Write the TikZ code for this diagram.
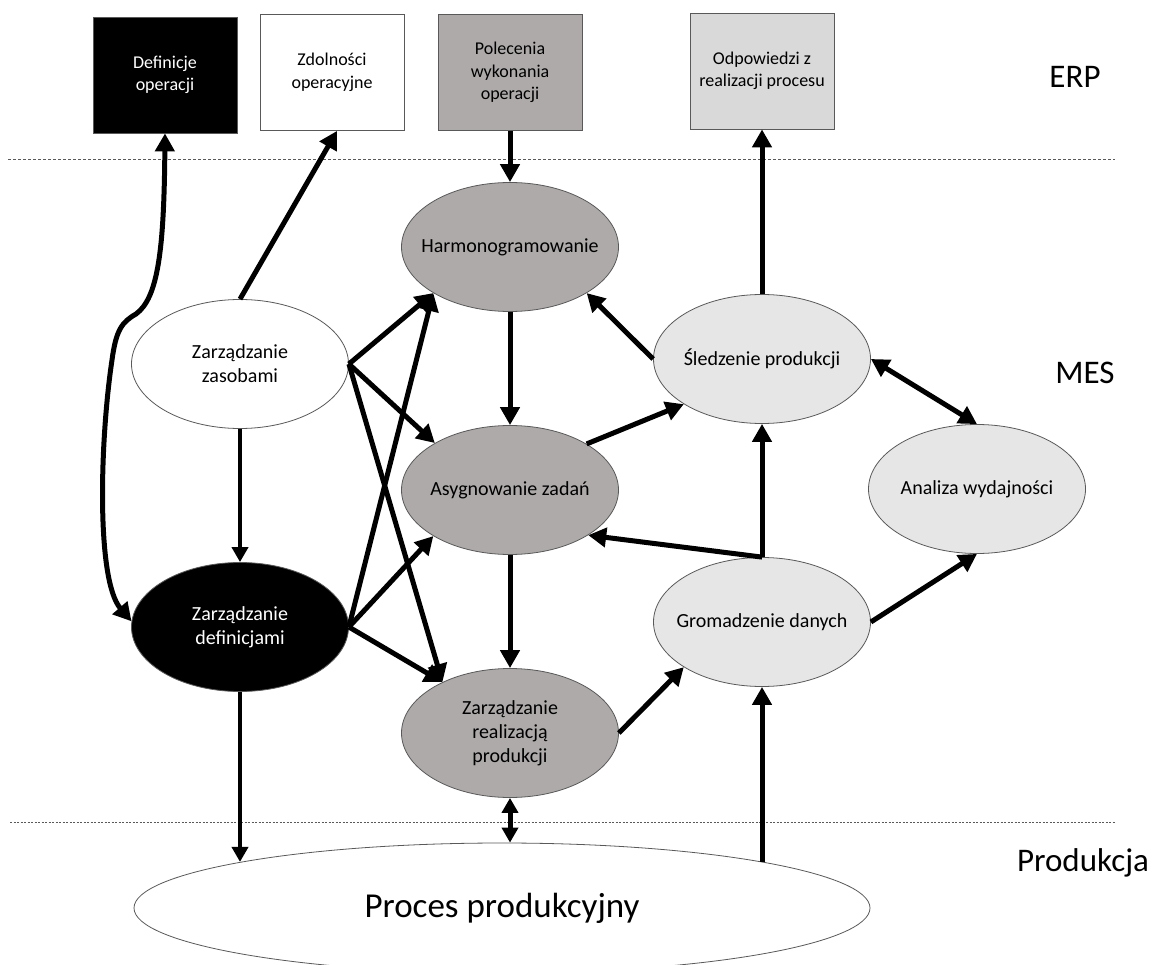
\documentclass[tikz,border=0pt]{standalone}
\usepackage{fontspec}
\setmainfont{Carlito}
\usetikzlibrary{arrows.meta,shapes.geometric,calc}
\definecolor{midgray}{HTML}{AEAAAA}
\definecolor{palegray}{HTML}{E7E6E6}
\definecolor{boxgray}{HTML}{D9D9D9}
\definecolor{rimgray}{HTML}{595959}
\tikzset{
  bigtip/.tip={Triangle[length=18pt,width=19pt]},
  smalltip/.tip={Triangle[length=15pt,width=16pt]},
}
\begin{document}
\begin{tikzpicture}[x=1pt,y=-1pt,
  erpbox/.style={rectangle, draw=rimgray, line width=0.8pt, minimum width=144pt,
    minimum height=116pt, inner sep=0pt, align=center,
    font=\fontsize{18}{22.5}\selectfont},
  fnc/.style={ellipse, draw=rimgray, line width=0.8pt, inner sep=0pt,
    minimum width=217pt, minimum height=129pt},
  every label/.style={inner sep=0pt, align=center, font=\fontsize{20}{24}\selectfont},
  flow/.style={line width=5pt, -bigtip},
  biflow/.style={line width=5pt, bigtip-bigtip},
  layer/.style={font=\fontsize{33}{40}\selectfont, inner sep=0pt},
  sepline/.style={draw=rimgray, line width=0.8pt, dash pattern=on 3pt off 2pt},
]
\useasboundingbox (0,0) rectangle (1158,965);

% layer separators
\draw[sepline] (8,159) -- (1115,159);
\draw[sepline, dash pattern=on 2pt off 1.5pt] (10,822) -- (1115,822);

% layer names
\node[layer] (erp) at (1075,77) {ERP};
\node[layer] (mes) at (1085,373) {MES};
\node[layer] (prod) at (1083,863) {Produkcja};

% ERP level boxes
\node[erpbox, fill=black, text=white] (defop) at (165,75) {Definicje\\operacji};
\node[erpbox, fill=white] (zdol) at (332,72.5) {Zdolności\\operacyjne};
\node[erpbox, fill=midgray] (pol) at (510,72.5) {Polecenia\\wykonania\\operacji};
\node[erpbox, fill=boxgray] (odp) at (762,71) {Odpowiedzi z\\realizacji procesu};

% MES functions
\node[fnc, fill=midgray, label={center:Harmonogramowanie}] (harm) at (510,247) {};
\node[fnc, fill=white, label={center:Zarządzanie\\zasobami}] (zas) at (240,364) {};
\node[fnc, fill=palegray, label={center:Śledzenie produkcji}] (sled) at (762,359) {};
\node[fnc, fill=midgray, label={center:Asygnowanie zadań}] (asyg) at (510,490) {};
\node[fnc, fill=palegray, label={center:Analiza wydajności}] (anal) at (977,489) {};
\node[fnc, fill=black, label={[text=white]center:Zarządzanie\\definicjami}] (zdef) at (240,627) {};
\node[fnc, fill=palegray, label={center:Gromadzenie danych}] (grom) at (762,622) {};
\node[fnc, fill=midgray, label={center:Zarządzanie\\realizacją\\produkcji}] (real) at (510,733) {};

% production process
\node[fnc, fill=white, minimum width=736pt, minimum height=130pt,
  font=\fontsize{35}{42}\selectfont] (procp) at (502,908) {Proces produkcyjny};

% connections to ERP
\draw[line width=5pt, bigtip-bigtip] (defop.south)
  .. controls (164,250) and (158,298) .. (136,314)
  .. controls (122,322) and (116,330) .. (112,360)
  .. controls (100,440) and (96,580) .. (zdef.177);
\draw[flow] (zas.north) -- ([xshift=5pt]zdol.south);
\draw[flow] (pol.south) -- (harm.north);
\draw[flow] (sled.north) -- (odp.south);

% resource and definition management
\draw[flow] (zas.east) -- (harm.211);
\draw[flow] (zas.east) -- (asyg.148);
\draw[flow] (zas.east) -- (real.143);
\draw[flow] (zdef.east) -- (harm.211);
\draw[flow] (zdef.east) -- (asyg.211);
\draw[flow] (zdef.east) -- (real.143);
\draw[line width=4pt, -smalltip] (zas.south) -- (zdef.north);

% execution chain
\draw[flow] (harm.south) -- (asyg.north);
\draw[flow] (asyg.south) -- (real.north);
\draw[flow] (sled.west) -- (harm.329);
\draw[flow] (asyg.31) -- (sled.210);
\draw[flow] (grom.north) -- (sled.south);
\draw[flow] (grom.north) -- (asyg.330);
\draw[flow] (real.east) -- (grom.210);
\draw[flow] (grom.east) -- (anal.south);
\draw[biflow] (sled.east) -- (anal.north);

% links to the production process
\draw[line width=5pt, smalltip-smalltip] (real.south) -- (real.south |- procp.north);
\draw[line width=4.5pt, -smalltip] (zdef.south) -- (zdef.south |- procp.170);
\draw[flow] (grom.south |- procp.10) -- (grom.south);
\end{tikzpicture}
\end{document}
